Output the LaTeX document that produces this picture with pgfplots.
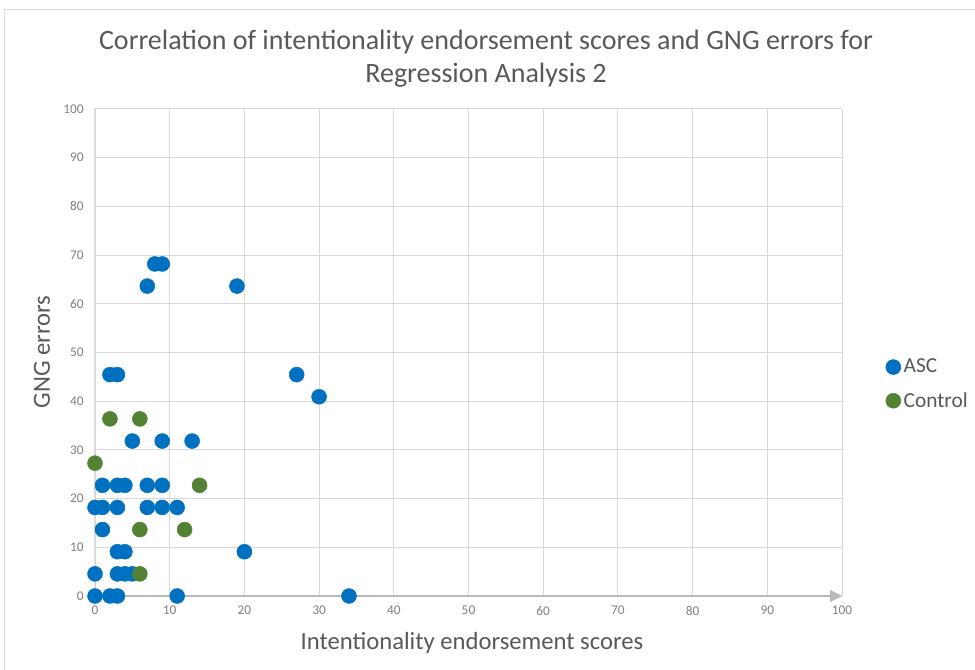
\documentclass[border=0pt]{standalone}
\usepackage{pgfplots}
\pgfplotsset{compat=1.18}
\usepackage{fontspec}
\setmainfont{Carlito}
\usetikzlibrary{arrows.meta}
\definecolor{asc}{RGB}{0,112,192}
\definecolor{ctrl}{RGB}{84,130,53}
\definecolor{txt}{RGB}{89,89,89}
\definecolor{tick}{RGB}{128,128,128}
\definecolor{gridc}{RGB}{217,217,217}
\begin{document}
\begin{tikzpicture}
\begin{scope}[x=0.75pt,y=0.75pt]
\useasboundingbox (0,0) rectangle (975,670);
\fill[white] (0,0) rectangle (975,670);
\draw[gridc,line width=0.75pt] (4,-10) rectangle (985,660);
\node[txt,font=\fontsize{21pt}{25pt}\selectfont,align=center] at (486,611) {Correlation of intentionality endorsement scores and GNG errors for\\Regression Analysis 2};
\node[txt,font=\fontsize{18.5pt}{22pt}\selectfont,rotate=90] at (42,318) {GNG errors};
\node[txt,font=\fontsize{18.5pt}{22pt}\selectfont] at (472,27) {Intentionality endorsement scores};
\end{scope}
\begin{axis}[
  at={(71.25pt,55.5pt)}, anchor=south west,
  scale only axis, width=560.25pt, height=365.25pt,
  xmin=0, xmax=100, ymin=0, ymax=100,
  xtick={0,10,...,100}, ytick={0,10,...,100},
  axis x line=bottom, axis y line=left,
  x axis line style={draw=gray!55, line width=1pt, -{Triangle[length=9pt,width=9pt]}},
  y axis line style={draw=gridc, line width=1pt, -},
  grid=major, grid style={draw=gridc, line width=0.75pt},
  major tick length=0pt,
  tick label style={font=\fontsize{10pt}{12pt}\selectfont, text=tick},
  /pgf/number format/assume math mode=true,
  xticklabel style={yshift=-4pt},
  yticklabel style={xshift=-5pt},
  clip=false,
  legend style={draw=none, fill=none, at={(1.058,0.435)}, anchor=west, font=\fontsize{16pt}{19pt}\selectfont, text=txt, row sep=9pt, inner sep=0pt},
  legend cell align=left,
  legend image code/.code={\fill[#1] (0.35em,0) circle (5.6pt);},
]
\addplot[only marks, mark=*, mark size=5.6pt, color=asc, mark options={draw=asc, fill=asc}] coordinates {
(0,0) (2,0) (3,0) (11,0) (34,0)
(0,4.545) (3,4.545) (4,4.545) (5,4.545)
(3,9.091) (4,9.091) (20,9.091)
(1,13.636)
(0,18.182) (1,18.182) (3,18.182) (7,18.182) (9,18.182) (11,18.182)
(1,22.727) (3,22.727) (4,22.727) (7,22.727) (9,22.727)
(5,31.818) (9,31.818) (13,31.818)
(30,40.909)
(2,45.455) (3,45.455) (27,45.455)
(7,63.636) (19,63.636)
(8,68.182) (9,68.182)
};
\addlegendentry{ASC}
\addplot[only marks, mark=*, mark size=5.6pt, color=ctrl, mark options={draw=ctrl, fill=ctrl}] coordinates {
(6,4.545)
(6,13.636) (12,13.636)
(14,22.727)
(0,27.273)
(2,36.364) (6,36.364)
};
\addlegendentry{Control}
\end{axis}
\end{tikzpicture}
\end{document}
